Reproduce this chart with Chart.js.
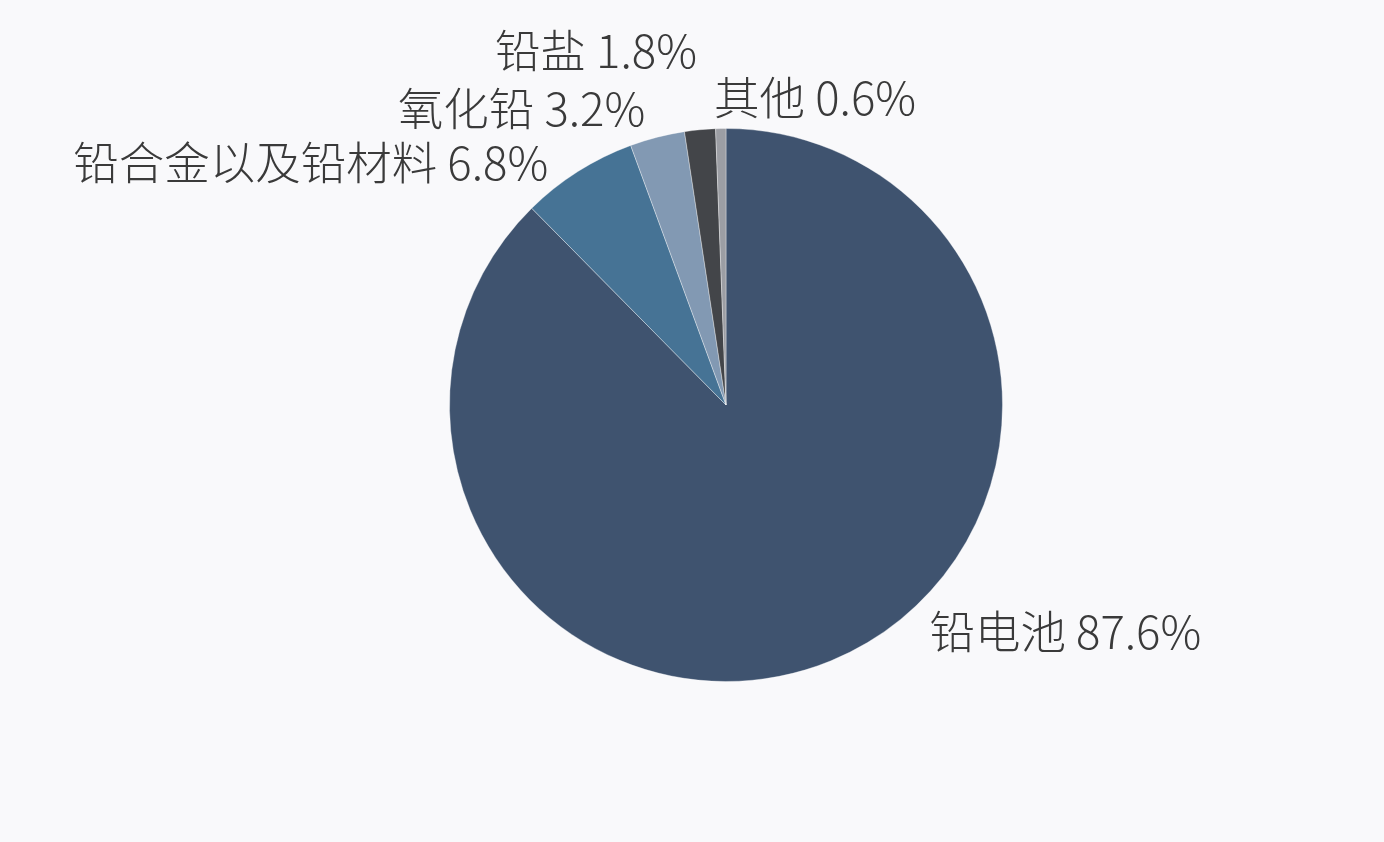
<!DOCTYPE html>
<html>
<head>
<meta charset="utf-8">
<script src="https://cdn.jsdelivr.net/npm/chart.js@4"></script>
<style>
  html, body { margin: 0; padding: 0; background: #f9f9fb; }
  #wrap { width: 1384px; height: 842px; }
</style>
</head>
<body>
<div id="wrap"><canvas id="pie" width="1384" height="842"></canvas></div>
<script>
const categories = ["铅电池", "铅合金以及铅材料", "氧化铅", "铅盐", "其他"];
const shares = [87.6, 6.8, 3.2, 1.8, 0.6];
const sliceColors = ["#3f536f", "#467395", "#8299b3", "#434549", "#9c9ea4"];

// label anchors, as multiples of the radius from the pie centre
const labelSpots = [
  { dx: 0.736, dy: 0.82, align: "left" },
  { dx: -0.643, dy: -0.877, align: "right" },
  { dx: -0.292, dy: -1.072, align: "right" },
  { dx: -0.105, dy: -1.282, align: "right" },
  { dx: -0.043, dy: -1.112, align: "left" }
];

const outsideLabels = {
  id: "outsideLabels",
  afterDatasetsDraw(chart) {
    const ctx = chart.ctx;
    const arcs = chart.getDatasetMeta(0).data;
    ctx.save();
    ctx.font = "300 45.5px 'Noto Sans CJK SC', 'Noto Sans', sans-serif";
    ctx.fillStyle = "#3a3a3a";
    ctx.textBaseline = "middle";
    arcs.forEach((arc, i) => {
      const r = arc.outerRadius;
      const spot = labelSpots[i];
      ctx.textAlign = spot.align;
      ctx.fillText(categories[i] + " " + shares[i].toFixed(1) + "%",
        arc.x + spot.dx * r, arc.y + spot.dy * r);
    });
    ctx.restore();
  }
};

new Chart(document.getElementById("pie"), {
  type: "pie",
  data: {
    labels: categories,
    datasets: [{
      data: shares,
      backgroundColor: sliceColors,
      borderColor: "rgba(255,255,255,0.35)",
      borderWidth: 1
    }]
  },
  options: {
    responsive: false,
    animation: false,
    layout: { padding: { left: 449, right: 381, top: 128, bottom: 160 } },
    plugins: {
      legend: { display: false },
      tooltip: { enabled: false }
    }
  },
  plugins: [outsideLabels]
});
</script>
</body>
</html>
